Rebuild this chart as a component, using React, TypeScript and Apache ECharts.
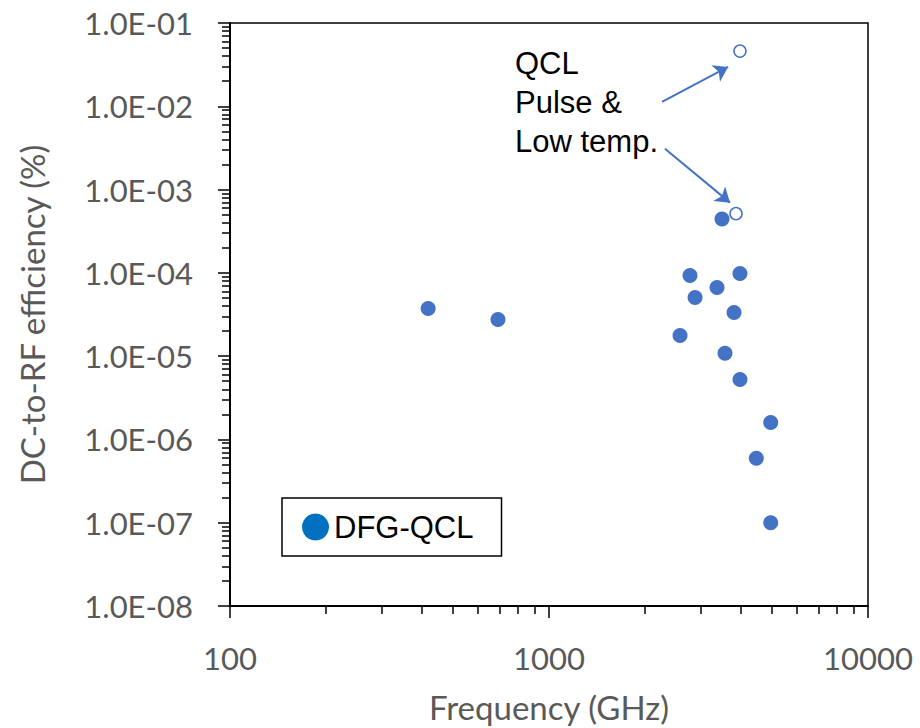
import React, { useEffect, useRef } from "react";
import * as echarts from "echarts";

// DFG-QCL data (frequency GHz, efficiency %)
const freqDFG = [418, 692, 2575, 2767, 2870, 3363, 3486, 3562, 3802, 3969, 3969, 4955, 4466, 4955];
const effDFG = [3.73e-5, 2.75e-5, 1.77e-5, 9.27e-5, 5.06e-5, 6.67e-5, 4.44e-4, 1.08e-5, 3.34e-5, 9.8e-5, 5.26e-6, 1.6e-6, 5.94e-7, 1.0e-7];
// QCL pulse & low temperature (open markers)
const freqQCL = [3969, 3857];
const effQCL = [4.6e-2, 5.14e-4];
// annotation arrows [fromFreq, fromEff, toFreq, toEff]
const arrow1 = [2261, 1.13e-2, 3641, 2.97e-2];
const arrow2 = [2310, 3.09e-3, 3693, 6.97e-4];
const annotationLines = ["QCL", "Pulse &", "Low temp."];

const xMin = 100, xMax = 10000;
const yMin = 1e-8, yMax = 1e-1;

const minorX: number[] = [];
for (let e = 2; e < 4; e++) for (let k = 2; k <= 9; k++) minorX.push(e + Math.log10(k));
const minorY: number[] = [];
for (let e = -8; e < -1; e++) for (let k = 2; k <= 9; k++) minorY.push(e + Math.log10(k));

const fmtY = (v: number) => {
  const e = Math.round(Math.log10(v));
  return "1.0E" + (e < 0 ? "-" : "+") + String(Math.abs(e)).padStart(2, "0");
};

export default function App() {
  const ref = useRef<HTMLDivElement>(null);
  useEffect(() => {
    document.body.style.margin = "0";
    const chart = echarts.init(ref.current!, null, { renderer: "svg" });
    const gray = "#595959";
    const labelFont = "Lato";
    chart.setOption({
      animation: false,
      backgroundColor: "#fff",
      grid: {
        left: 230, top: 23, right: 52, bottom: 121,
        show: true, borderColor: "#000", borderWidth: 1.5, backgroundColor: "transparent",
      },
      xAxis: [
        {
          type: "log", logBase: 10, min: xMin, max: xMax, splitNumber: 2,
          name: "Frequency (GHz)", nameLocation: "middle", nameGap: 84,
          nameTextStyle: { color: gray, fontSize: 33, fontFamily: labelFont },
          axisLine: { lineStyle: { color: "#000", width: 2 } },
          axisTick: { length: 12, lineStyle: { color: "#000", width: 1.5 } },
          axisLabel: { color: gray, fontSize: 31, fontFamily: labelFont, margin: 36, formatter: (v: number) => String(Math.round(v)) },
          splitLine: { show: false },
        },
        {
          type: "value", min: 2, max: 4, position: "bottom",
          axisLine: { show: false },
          axisTick: { show: true, length: 8, customValues: minorX, lineStyle: { color: "#000", width: 1.5 } },
          axisLabel: { show: false },
          splitLine: { show: false },
        },
      ],
      yAxis: [
        {
          type: "log", logBase: 10, min: yMin, max: yMax, splitNumber: 7,
          name: "DC-to-RF efficiency (%)", nameLocation: "middle", nameGap: 182, nameRotate: 90,
          nameTextStyle: { color: gray, fontSize: 33, fontFamily: labelFont },
          axisLine: { lineStyle: { color: "#000", width: 2 } },
          axisTick: { length: 12, lineStyle: { color: "#000", width: 1.5 } },
          axisLabel: { color: gray, fontSize: 31, fontFamily: labelFont, margin: 37, formatter: fmtY },
          splitLine: { show: false },
        },
        {
          type: "value", min: -8, max: -1, position: "left",
          axisLine: { show: false },
          axisTick: { show: true, length: 8, customValues: minorY, lineStyle: { color: "#000", width: 1.5 } },
          axisLabel: { show: false },
          splitLine: { show: false },
        },
      ],
      legend: {
        left: 282, top: 498,
        orient: "horizontal",
        padding: [13, 28, 13, 20],
        borderColor: "#000", borderWidth: 1.5,
        itemWidth: 27, itemHeight: 27,
        selectedMode: false,
        textStyle: { color: "#000", fontSize: 31, fontFamily: "Liberation Sans", lineHeight: 32 },
        data: [{ name: "DFG-QCL", icon: "circle", itemStyle: { color: "#0070C0" } }],
      },
      graphic: annotationLines.map((t, i) => ({
        type: "text", left: 515, top: 48 + i * 39,
        style: { text: t, fill: "#000", fontSize: 31, fontFamily: "Liberation Sans" },
      })),
      series: [
        {
          name: "DFG-QCL", type: "scatter", xAxisIndex: 0, yAxisIndex: 0,
          symbol: "circle", symbolSize: 15,
          itemStyle: { color: "#4472C4", opacity: 1 },
          data: freqDFG.map((f, i) => [f, effDFG[i]]),
        },
        {
          name: "QCL", type: "scatter", xAxisIndex: 0, yAxisIndex: 0,
          symbol: "circle", symbolSize: 12,
          itemStyle: { color: "#fff", borderColor: "#4472C4", borderWidth: 1.5, opacity: 1 },
          data: freqQCL.map((f, i) => [f, effQCL[i]]),
          markLine: {
            silent: true, animation: false,
            symbol: ["none", "arrow"], symbolSize: 14,
            label: { show: false },
            lineStyle: { color: "#4472C4", width: 2, type: "solid" },
            data: [
              [{ coord: [arrow1[0], arrow1[1]] }, { coord: [arrow1[2], arrow1[3]] }],
              [{ coord: [arrow2[0], arrow2[1]] }, { coord: [arrow2[2], arrow2[3]] }],
            ],
          },
        },
      ],
    });
    return () => chart.dispose();
  }, []);
  return <div ref={ref} style={{ position: "absolute", left: 0, top: 0, width: 920, height: 728 }} />;
}
